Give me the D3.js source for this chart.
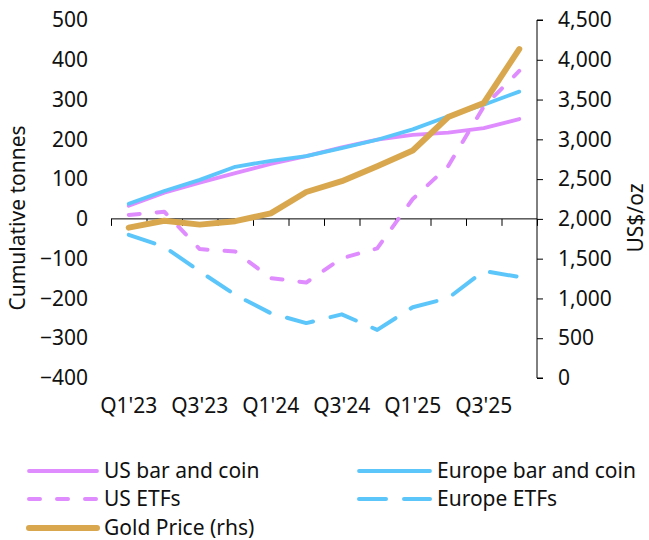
<!DOCTYPE html>
<html>
<head>
<meta charset="utf-8">
<script src="https://cdn.jsdelivr.net/npm/d3@7"></script>
<style>
  body { margin: 0; background: #fff; }
  svg { display: block; font-family: "Noto Sans", "Open Sans", sans-serif; }
  .axis { font-family: "Noto Sans", "Open Sans", sans-serif; }
  .axis text { font-size: 21px; fill: #111; }
  .axis path, .axis line { stroke: #000; }
</style>
</head>
<body>
<svg id="chart" width="649" height="540"></svg>
<script>
// quarterly data
var quarters = ["Q1'23", "Q2'23", "Q3'23", "Q4'23", "Q1'24", "Q2'24", "Q3'24", "Q4'24", "Q1'25", "Q2'25", "Q3'25", "Q4'25"];
var usBarCoin = [33, 66, 91, 115, 138, 158, 180, 199, 211, 217, 228, 251];
var europeBarCoin = [38, 70, 98, 131, 146, 158, 178, 199, 225, 258, 287, 320];
var usEtfs = [10, 18, -76, -82, -149, -160, -99, -74, 50, 133, 282, 372];
var europeEtfs = [-40, -70, -132, -191, -237, -262, -240, -279, -222, -199, -131, -146];
var goldPrice = [1890, 1976, 1928, 1971, 2070, 2338, 2474, 2663, 2860, 3280, 3457, 4135];

var leftTicks = [-400, -300, -200, -100, 0, 100, 200, 300, 400, 500];
var rightTicks = [0, 500, 1000, 1500, 2000, 2500, 3000, 3500, 4000, 4500];
var xLabels = ["Q1'23", "Q3'23", "Q1'24", "Q3'24", "Q1'25", "Q3'25"];

var svg = d3.select('#chart');

var plotL = 111, plotR = 537, plotT = 20, plotB = 378;

var x = d3.scaleBand().domain(quarters).range([plotL, plotR]).paddingInner(0).paddingOuter(0);
var xTick = d3.scaleLinear().domain([0, quarters.length]).range([plotL, plotR]);
var yL = d3.scaleLinear().domain([-400, 500]).range([plotB, plotT]);
var yR = d3.scaleLinear().domain([0, 4500]).range([plotB, plotT]);

var cx = function (q) { return x(q) + x.bandwidth() / 2; };

// left axis: labels only
svg.append('g')
    .attr('class', 'axis')
    .attr('transform', 'translate(91,0)')
    .call(d3.axisLeft(yL).tickValues(leftTicks).tickSize(0).tickPadding(3))
    .call(g => g.select('.domain').remove());

// right axis
svg.append('g')
    .attr('class', 'axis')
    .attr('transform', 'translate(' + plotR + ',0)')
    .call(d3.axisRight(yR).tickValues(rightTicks).tickSize(6).tickPadding(15).tickFormat(d3.format(',')))
    .call(g => g.select('.domain').attr('d', 'M6,' + plotT + 'H0V' + plotB + 'H6'));

// x axis line at zero with ticks at quarter boundaries
svg.append('g')
    .attr('class', 'axis')
    .attr('transform', 'translate(0,' + yL(0) + ')')
    .call(d3.axisBottom(xTick).tickValues(d3.range(0, quarters.length + 1)).tickSize(7).tickFormat(''))
    .call(g => g.select('.domain').attr('d', 'M' + plotL + ',0H' + plotR));

// x labels at the bottom
svg.append('g')
    .attr('class', 'axis')
    .attr('transform', 'translate(0,' + plotB + ')')
    .call(d3.axisBottom(x).tickValues(xLabels).tickSize(0).tickPadding(20))
    .call(g => g.select('.domain').remove());

// axis titles
svg.append('text')
    .attr('transform', 'translate(25,218) rotate(-90)')
    .attr('text-anchor', 'middle')
    .style('font-size', '21px')
    .attr('fill', '#111')
    .text('Cumulative tonnes');

svg.append('text')
    .attr('transform', 'translate(643,218) rotate(-90)')
    .attr('text-anchor', 'middle')
    .style('font-size', '21px')
    .attr('fill', '#111')
    .text('US$/oz');

var pink = '#df8cff', blue = '#5cc6fb', gold = '#d9a84e';

var series = [
    { name: 'US bar and coin', values: usBarCoin, scale: yL, color: pink, width: 3.8, dash: null },
    { name: 'Europe bar and coin', values: europeBarCoin, scale: yL, color: blue, width: 3.8, dash: null },
    { name: 'US ETFs', values: usEtfs, scale: yL, color: pink, width: 4, dash: '11,17' },
    { name: 'Europe ETFs', values: europeEtfs, scale: yL, color: blue, width: 4, dash: '27,18' },
    { name: 'Gold Price (rhs)', values: goldPrice, scale: yR, color: gold, width: 6, dash: null }
];

series.forEach(s => {
    var line = d3.line()
        .x((d, i) => cx(quarters[i]))
        .y(d => s.scale(d));
    svg.append('path')
        .datum(s.values)
        .attr('d', line)
        .attr('fill', 'none')
        .attr('stroke', s.color)
        .attr('stroke-width', s.width)
        .attr('stroke-linejoin', 'round')
        .attr('stroke-linecap', 'round')
        .attr('stroke-dasharray', s.dash);
});

// legend
var legendPos = [
    { x1: 29, x2: 97, tx: 104, y: 471 },
    { x1: 359, x2: 430, tx: 437, y: 471 },
    { x1: 29, x2: 97, tx: 104, y: 499 },
    { x1: 359, x2: 430, tx: 437, y: 499 },
    { x1: 29, x2: 97, tx: 104, y: 528 }
];

var leg = svg.append('g')
    .selectAll('g')
    .data(series)
    .enter()
    .append('g');

leg.append('line')
    .attr('x1', (d, i) => legendPos[i].x1)
    .attr('x2', (d, i) => legendPos[i].x2)
    .attr('y1', (d, i) => legendPos[i].y)
    .attr('y2', (d, i) => legendPos[i].y)
    .attr('stroke', d => d.color)
    .attr('stroke-width', d => d.width)
    .attr('stroke-linecap', 'round')
    .attr('stroke-dasharray', d => d.dash);

leg.append('text')
    .attr('x', (d, i) => legendPos[i].tx)
    .attr('y', (d, i) => legendPos[i].y)
    .attr('dy', '0.35em')
    .style('font-size', '21px')
    .attr('fill', '#111')
    .text(d => d.name);
</script>
</body>
</html>
